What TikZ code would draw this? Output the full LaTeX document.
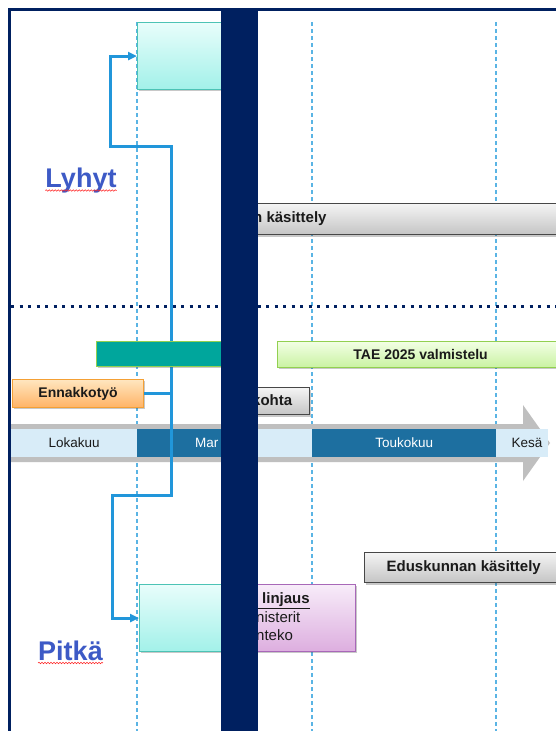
\documentclass[tikz,border=0pt]{standalone}
\usepackage{fontspec}
\setmainfont{Liberation Sans}
\usetikzlibrary{positioning, arrows.meta, shadows, decorations.pathmorphing}

\definecolor{navy}{HTML}{002060}
\definecolor{gridblue}{HTML}{5AB4E4}
\definecolor{linkblue}{HTML}{2196DA}
\definecolor{titleblue}{HTML}{3D5AC6}
\definecolor{textdark}{HTML}{1A1A1A}
\definecolor{tealtop}{HTML}{E8FDFB}
\definecolor{tealbottom}{HTML}{A2F1E9}
\definecolor{tealedge}{HTML}{4CC3B5}
\definecolor{tealfill}{HTML}{00A69C}
\definecolor{greenedge}{HTML}{92D050}
\definecolor{greentop}{HTML}{F2FFE4}
\definecolor{greenbottom}{HTML}{C9F2A2}
\definecolor{orangetop}{HTML}{FFE6BF}
\definecolor{orangebottom}{HTML}{FFB366}
\definecolor{orangeedge}{HTML}{F4A035}
\definecolor{graytop}{HTML}{F4F4F4}
\definecolor{graybottom}{HTML}{C4C4C4}
\definecolor{grayedge}{HTML}{474747}
\definecolor{pinktop}{HTML}{F7ECF9}
\definecolor{pinkbottom}{HTML}{DDAEDF}
\definecolor{pinkedge}{HTML}{A868B8}
\definecolor{stripbright}{HTML}{D8ECF8}
\definecolor{stripdark}{HTML}{1D6FA0}
\definecolor{arrowgray}{HTML}{BFBFBF}

\begin{document}
\begin{tikzpicture}[x=1pt, y=-1pt, >={Triangle[length=9pt,width=8pt]},
    every node/.style={inner sep=0pt, text=textdark},
    shadowed/.style={drop shadow={shadow xshift=1.5pt, shadow yshift=-1.8pt, opacity=0.3, fill=black!70}},
    panel/.style={draw, line width=1.2pt, shadowed, anchor=north west},
    tealbox/.style={panel, draw=tealedge, top color=tealtop, bottom color=tealbottom},
    greenbox/.style={panel, draw=greenedge, top color=greentop, bottom color=greenbottom, font=\fontsize{14}{16}\selectfont\bfseries},
    orangebox/.style={panel, draw=orangeedge, top color=orangetop, bottom color=orangebottom, font=\fontsize{14}{16}\selectfont\bfseries},
    graybox/.style={panel, draw=grayedge, line width=1.4pt, top color=graytop, bottom color=graybottom, font=\fontsize{15}{17}\selectfont\bfseries},
    pinkbox/.style={panel, draw=pinkedge, top color=pinktop, bottom color=pinkbottom},
    boldtext/.style={anchor=west, font=\fontsize{15}{17}\selectfont\bfseries},
    pinktext/.style={anchor=west, align=left, font=\fontsize{15}{18.5}\selectfont},
    strip/.style={minimum height=28pt, anchor=west, font=\fontsize{13.5}{15}\selectfont},
    gridline/.style={gridblue, line width=1.4pt, dash pattern=on 4pt off 3pt},
    link/.style={linkblue, line width=3pt, ->},
    title/.style={text=titleblue, font=\fontsize{27}{30}\selectfont\bfseries, anchor=base},
    squiggle/.style={red!85!white, line width=0.6pt, decorate, decoration={snake, amplitude=0.7pt, segment length=3pt}}]

    \useasboundingbox (0,0) rectangle (556,731);
    \clip (0,0) rectangle (556,731);
    \fill[white] (0,0) rectangle (556,731);

    % month grid
    \foreach \gx in {137,312,496}
        \draw[gridline] (\gx,22) -- (\gx,731);

    % short / long separator
    \draw[navy, line width=3pt, dash pattern=on 3pt off 5.5pt] (11,306) -- (556,306);

    % time line
    \fill[arrowgray] (11,424) -- (523,424) -- (523,405) -- (550,443) -- (523,481) -- (523,462) -- (11,462) -- cycle;
    \node[strip, fill=stripbright, minimum width=126pt] (lokakuu) at (11,443) {Lokakuu};
    \node[strip, fill=stripdark, minimum width=103pt] (maaliskuu) at (137,443) {};
    \node[strip, fill=stripbright, minimum width=72pt] (huhtikuu) at (240,443) {};
    \node[strip, fill=stripdark, minimum width=184pt, text=white] (toukokuu) at (312,443) {Toukokuu};
    \node[strip, fill=stripbright, minimum width=52pt] (kesakuu) at (496,443) {};
    \node[strip, text=white] (maartxt) at (195,443) {Mar};
    \node[font=\fontsize{13.5}{15}\selectfont] (kesatxt) at (527,443) {Kesä};

    \node[orangebox, minimum width=131pt, minimum height=28pt] (ennakko) at (12,379) {Ennakkotyö};
    \node[tealbox, minimum width=90pt, minimum height=67pt] (lyhytbox) at (137,22) {};
    \node[tealbox, minimum width=90pt, minimum height=67pt] (pitkabox) at (139,584) {};

    % links from the preparatory work
    \coordinate (uppersplit) at (171,146);
    \coordinate (lowersplit) at (171,495);
    \draw[link] (ennakko.east) -| (uppersplit) -| ([xshift=-27pt]lyhytbox.west) -- (lyhytbox.west);
    \draw[link] (ennakko.east) -| (lowersplit) -| ([xshift=-27pt]pitkabox.west) -- (pitkabox.west);

    \node[panel, draw=greenedge, line width=1pt, fill=tealfill, minimum width=125pt, minimum height=25pt] (tealbar) at (96,341) {};
    \node[greenbox, minimum width=286pt, minimum height=26pt] (tae) at (277,341) {TAE 2025 valmistelu};
    \node[graybox, minimum width=330pt, minimum height=31pt] (kasittely) at (240,203) {};
    \node[boldtext] (kasittelytxt) at (253,218.5) {n käsittely};
    \node[graybox, minimum width=69pt, minimum height=27pt] (kohta) at (240,387) {};
    \node[boldtext] (kohtatxt) at (252,400.5) {kohta};
    \node[graybox, minimum width=198pt, minimum height=30pt] (eduskunta) at (364,552) {Eduskunnan käsittely};
    \node[pinkbox, minimum width=115pt, minimum height=67pt] (linjaus) at (240,584) {};
    \node[pinktext] (linjaustxt) at (256,617) {\underline{\textbf{\hspace*{6pt}linjaus}}\\nisterit\\nteko};

    % horizon labels
    \node[title] (lyhyt) at (81,187) {Lyhyt};
    \draw[squiggle] ([yshift=-3.5pt]lyhyt.base west) -- ([yshift=-3.5pt]lyhyt.base east);
    \node[title] (pitka) at (70.5,660) {Pitkä};
    \draw[squiggle] ([yshift=-3pt]pitka.base west) -- ([yshift=-3pt]pitka.base east);

    % cover bar and frame
    \fill[navy] (221,8.5) rectangle (258,731);
    \draw[navy, line width=2.8pt] (9.7,731) -- (9.7,9.7) -- (556,9.7);
\end{tikzpicture}
\end{document}
